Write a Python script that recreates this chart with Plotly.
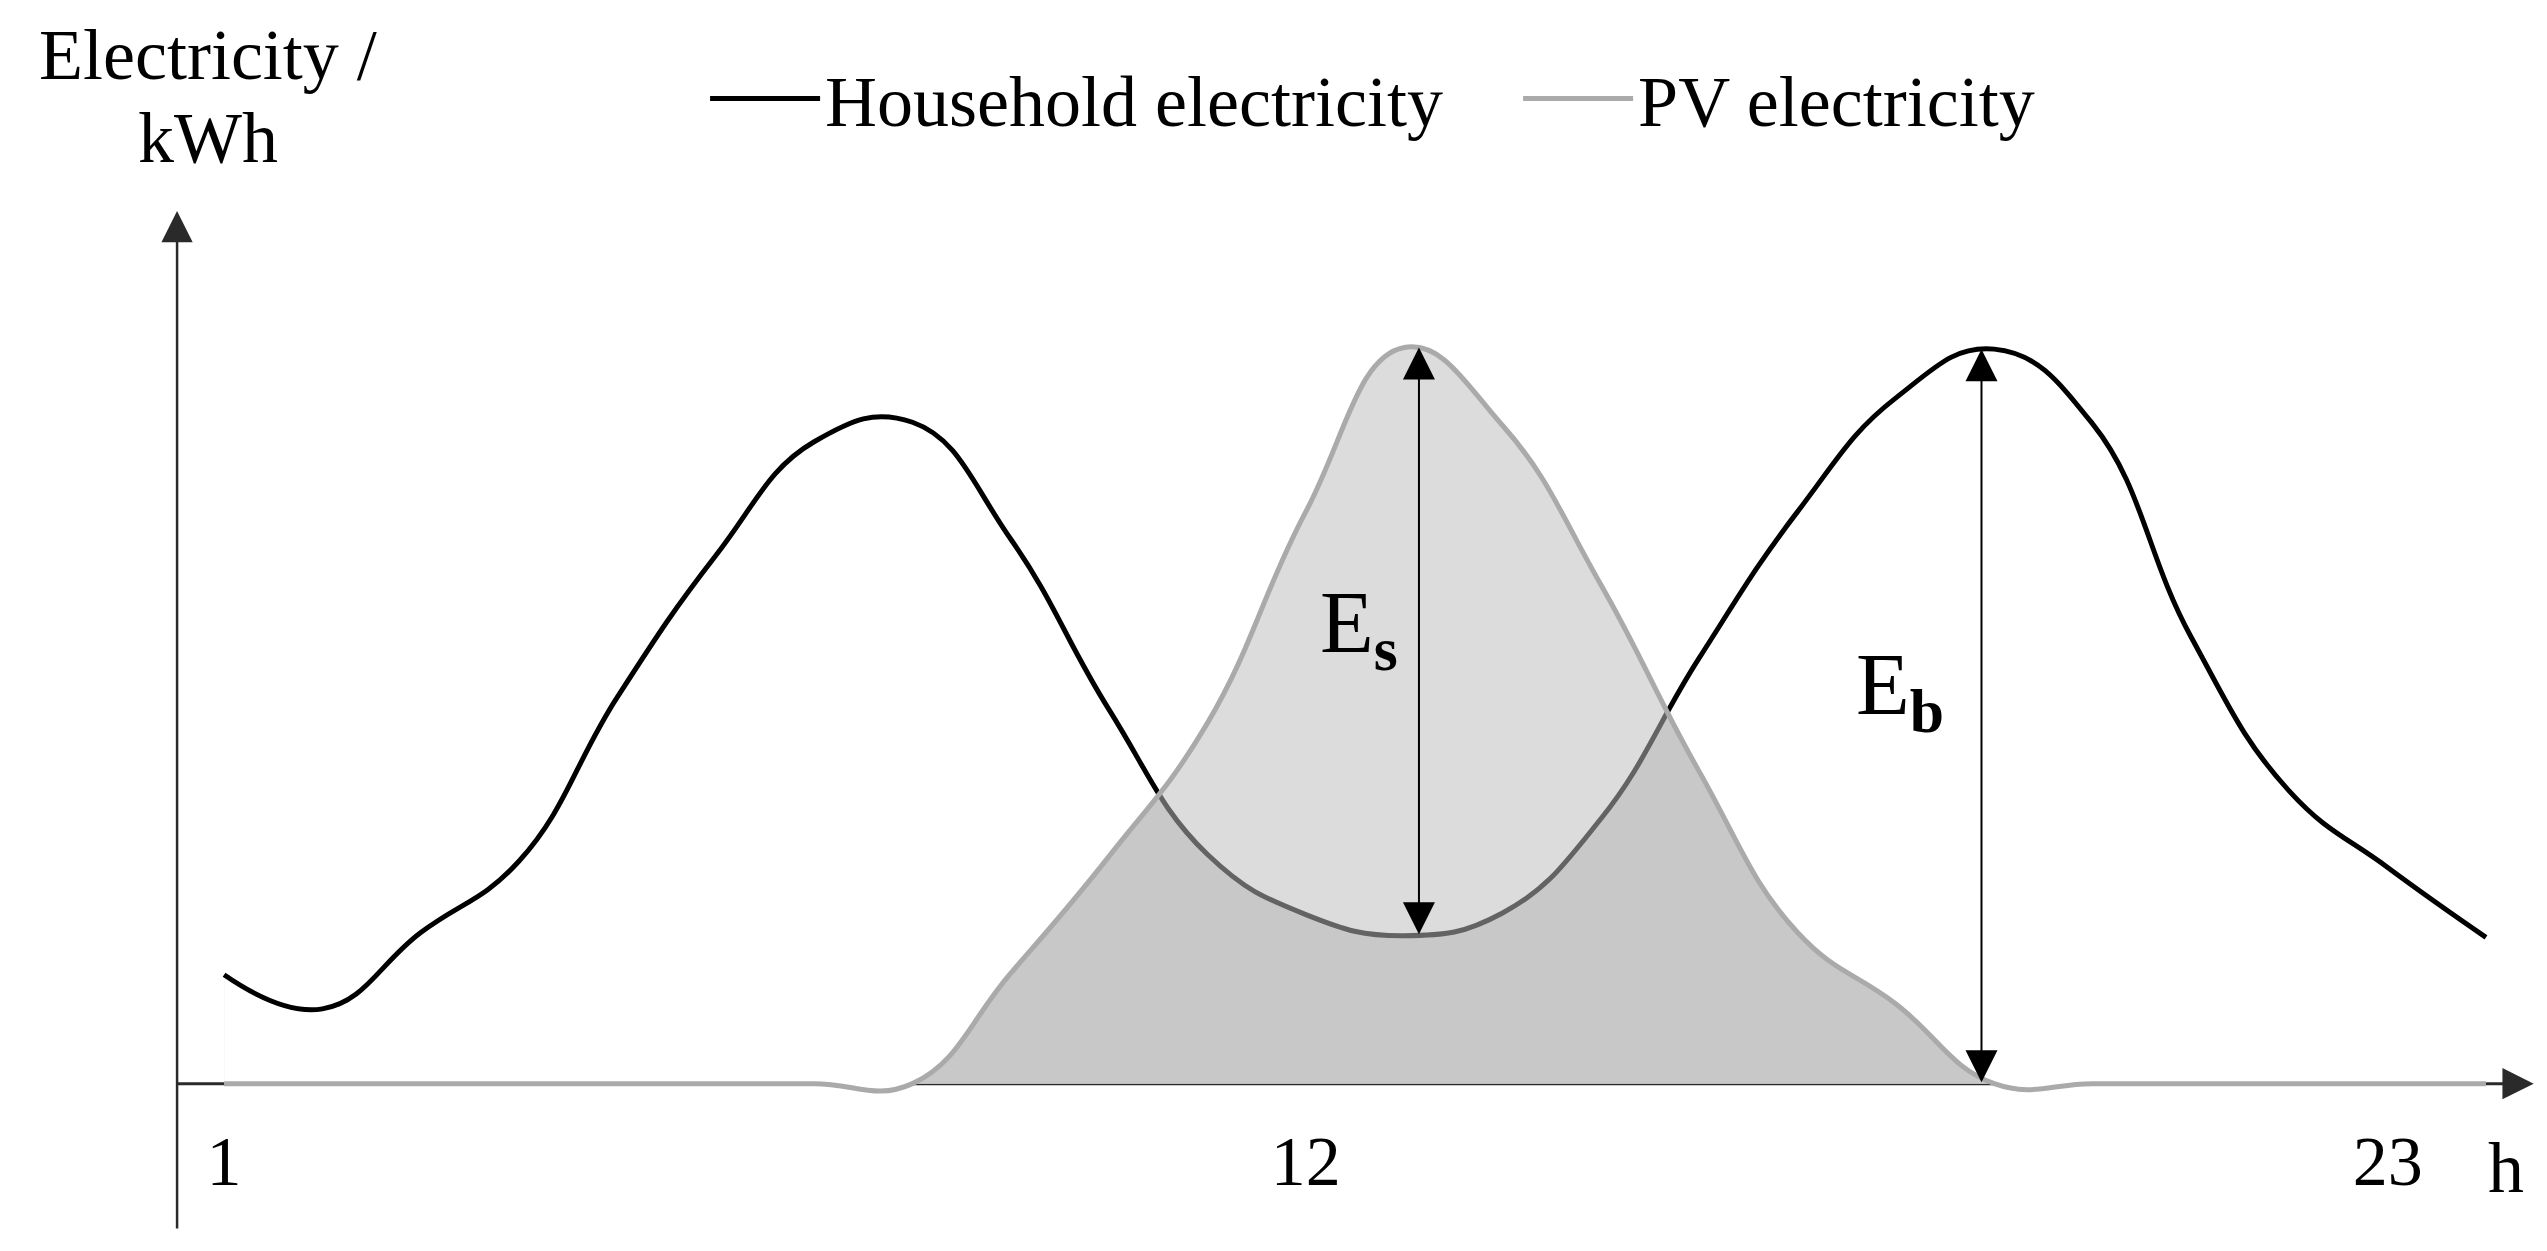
import plotly.graph_objects as go

# hourly profile (arbitrary kWh units)
hours = list(range(1, 25))
household = [0.67, 0.46, 0.93, 1.37, 2.38, 3.25, 3.95, 4.07, 3.35, 2.30, 1.41, 1.04,
             0.91, 1.05, 1.63, 2.62, 3.52, 4.22, 4.52, 4.06, 2.75, 1.80, 1.33, 0.90]
pv = [0, 0, 0, 0, 0, 0, 0, 0, 0.68, 1.40, 2.22, 3.52,
      4.53, 4.05, 3.07, 1.92, 0.93, 0.49, 0, 0, 0, 0, 0, 0]
tick_hours = [1, 12, 23]
tick_text = ['1', '12', '23']

X_RANGE = [0.45, 24.6]
Y_RANGE = [-0.95, 5.45]
FONT = 'Liberation Serif'
AX_COLOR = '#2a2a2a'
SMOOTH = 1.25
top_line = [Y_RANGE[1]] * len(hours)

fig = go.Figure()

# ---- fills: light where PV > household, dark where PV and household overlap
fig.add_trace(go.Scatter(x=hours, y=pv, mode='lines', fill='tozeroy',
                         fillcolor='rgb(198,198,198)',
                         line=dict(width=0, shape='spline', smoothing=SMOOTH),
                         showlegend=False, hoverinfo='skip'))
fig.add_trace(go.Scatter(x=hours, y=household, mode='lines', fill='tozeroy',
                         fillcolor='rgb(165,165,165)',
                         line=dict(width=0, shape='spline', smoothing=SMOOTH),
                         showlegend=False, hoverinfo='skip'))
# white mask above the PV curve
fig.add_trace(go.Scatter(x=hours, y=pv, mode='lines',
                         line=dict(width=0, shape='spline', smoothing=SMOOTH),
                         showlegend=False, hoverinfo='skip'))
fig.add_trace(go.Scatter(x=hours, y=top_line, mode='lines', fill='tonexty',
                         fillcolor='white', line=dict(width=0),
                         showlegend=False, hoverinfo='skip'))

# ---- lines
fig.add_trace(go.Scatter(x=hours, y=household, mode='lines', name='Household electricity',
                         line=dict(color='black', width=5, shape='spline', smoothing=SMOOTH)))
# translucent veil so the household line looks grey inside the PV area
fig.add_trace(go.Scatter(x=hours, y=pv, mode='lines', fill='tozeroy',
                         fillcolor='rgba(255,255,255,0.39)',
                         line=dict(width=0, shape='spline', smoothing=SMOOTH),
                         showlegend=False, hoverinfo='skip'))
fig.add_trace(go.Scatter(x=hours, y=pv, mode='lines', name='PV electricity',
                         line=dict(color='rgb(170,170,170)', width=5, shape='spline',
                                   smoothing=SMOOTH)))

# x axis line (below the traces)
fig.add_shape(type='line', x0=0.522, x1=24.3, y0=0, y1=0, xref='x', yref='y',
              line=dict(color=AX_COLOR, width=3), layer='below')

arrow = dict(xref='x', yref='y', axref='x', ayref='y', text='', showarrow=True,
             arrowhead=2)
# axis arrows
fig.add_annotation(x=0.522, y=5.37, ax=0.522, ay=-0.90, arrowsize=2.5, arrowwidth=2.5,
                   arrowcolor=AX_COLOR, **arrow)
fig.add_annotation(x=24.485, y=0, ax=24.2, ay=0, arrowsize=2.5, arrowwidth=2.5,
                   arrowcolor=AX_COLOR, **arrow)
# E_s and E_b markers
fig.add_annotation(x=13.15, y=pv[12], ax=13.15, ay=household[12], arrowside='end+start',
                   startarrowhead=2, arrowsize=3.2, startarrowsize=3.2, arrowwidth=2,
                   arrowcolor='black', **arrow)
fig.add_annotation(x=18.87, y=household[18], ax=18.87, ay=0, arrowside='end+start',
                   startarrowhead=2, arrowsize=3.2, startarrowsize=3.2, arrowwidth=2,
                   arrowcolor='black', **arrow)

lab_font = dict(family=FONT, size=88, color='black')
fig.add_annotation(x=12.54, y=2.80, text='E<sub><b>s</b></sub>', showarrow=False, font=lab_font)
fig.add_annotation(x=18.04, y=2.42, text='E<sub><b>b</b></sub>', showarrow=False, font=lab_font)
fig.add_annotation(x=24.2, y=-0.52, text='h', showarrow=False,
                   font=dict(family=FONT, size=72, color='black'))

# y axis title, two lines
title_font = dict(family=FONT, size=72, color='black')
fig.add_annotation(x=0.016, y=1.1375, xref='paper', yref='paper', text='Electricity /',
                   xanchor='center', yanchor='middle', showarrow=False, font=title_font)
fig.add_annotation(x=0.016, y=1.0575, xref='paper', yref='paper', text='kWh',
                   xanchor='center', yanchor='middle', showarrow=False, font=title_font)

fig.update_layout(
    width=2547, height=1251,
    margin=dict(l=162, r=10, t=190, b=21),
    paper_bgcolor='white', plot_bgcolor='white',
    showlegend=True,
    legend=dict(orientation='h', x=0.2253, y=1.0956, xanchor='left', yanchor='middle',
                traceorder='normal', entrywidth=688, entrywidthmode='pixels',
                font=dict(family=FONT, size=72, color='black'), itemwidth=110,
                bgcolor='rgba(0,0,0,0)'),
    xaxis=dict(range=X_RANGE, anchor='free', position=0.95 / 6.4,
               tickvals=tick_hours, ticktext=tick_text, ticks='',
               showgrid=False, zeroline=False, showline=False,
               tickfont=dict(family=FONT, size=70, color='black'), ticklabelstandoff=30),
    yaxis=dict(range=Y_RANGE, visible=False),
)

fig.write_html("out.html")
